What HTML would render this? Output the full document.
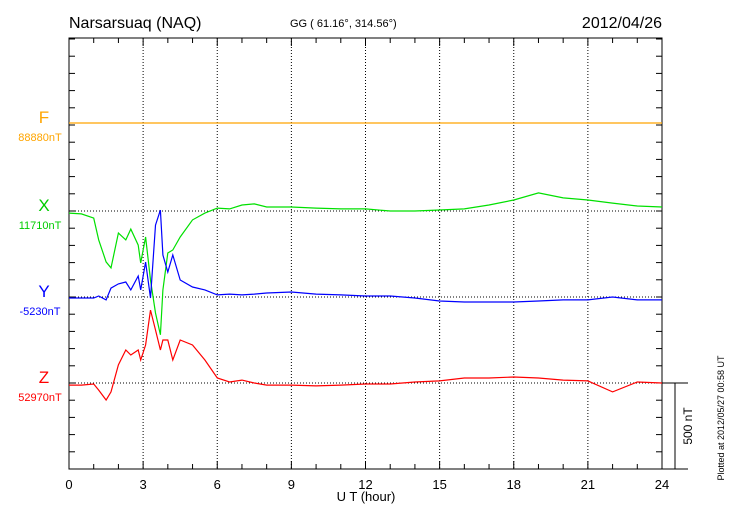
<!DOCTYPE html>
<html><head><meta charset="utf-8"><style>
body{margin:0;background:#fff;}
svg{display:block;font-family:"Liberation Sans",sans-serif;}
</style></head><body>
<svg id="chart" width="730" height="520">
<text x="69" y="28" font-size="16">Narsarsuaq (NAQ)</text>
<text x="290" y="27" font-size="11">GG ( 61.16°, 314.56°)</text>
<text x="662" y="28" font-size="16" text-anchor="end">2012/04/26</text>
<text x="366" y="501" font-size="13" text-anchor="middle">U T (hour)</text>
<text transform="translate(692,426) rotate(-90)" font-size="12" text-anchor="middle">500 nT</text>
<text transform="translate(724,418) rotate(-90)" font-size="9" text-anchor="middle">Plotted at 2012/05/27 00:58 UT</text>
<g id="grid"></g><g id="axes"></g><g id="series"></g>
</svg>
<script>
const hours=[0,0.5,1,1.2,1.5,1.7,2,2.3,2.5,2.8,2.9,3.1,3.3,3.5,3.7,3.8,4,4.2,4.5,5,5.5,6,6.5,7,7.5,8,9,10,11,12,13,14,15,16,17,18,19,20,21,22,23,24];
const xValues=[-12,-17,-41,-168,-296,-331,-128,-168,-105,-198,-302,-151,-401,-593,-720,-459,-244,-227,-151,-52,-12,17,12,35,41,23,23,17,12,12,0,0,6,12,35,64,105,76,64,46,29,23];
const yValues=[-6,-6,-6,6,-17,52,76,87,41,122,41,203,-6,418,505,244,145,244,99,58,41,12,17,12,17,23,29,17,12,6,6,-6,-23,-29,-29,-29,-23,-17,-17,0,-17,-17];
const zValues=[-12,-12,-6,-41,-99,-52,105,192,163,192,134,221,424,308,192,250,250,134,250,221,134,29,6,17,0,-12,-12,-17,-12,-6,-6,6,12,29,29,35,29,17,12,-52,6,0];
const fValues=hours.map(()=>0);
const xTicks=[0,3,6,9,12,15,18,21,24];
const comps=["F","X","Y","Z"];
const baseLabels=["88880nT","11710nT","-5230nT","52970nT"];
const NS="http://www.w3.org/2000/svg";
const L=69,R=662,T=38,B=469;
const bases=[123,211,297,383], colors=["#ffa500","#00e000","#0000ff","#ff0000"], labColors=["#ffa500","#00cc00","#0000ff","#ff0000"];
const pxPerNT=86/500;
const sx=h=>L+h*(R-L)/24;
const sy=(v,i)=>bases[i]-v*pxPerNT;
function mk(tag,attrs,parent){const e=document.createElementNS(NS,tag);for(const k in attrs)e.setAttribute(k,attrs[k]);document.getElementById(parent).appendChild(e);return e;}
xTicks.forEach(h=>{
 if(h>0&&h<24){const g=mk("line",{x1:sx(h),x2:sx(h),y1:T,y2:B,stroke:"#000","stroke-width":1,"stroke-dasharray":"1,2"},"grid");
 
 }
 const t=mk("text",{x:sx(h),y:489,"font-size":13,"text-anchor":"middle"},"axes");t.textContent=h;
 
 
});
bases.forEach((b,i)=>{
 const g=mk("line",{x1:L,x2:R,y1:b,y2:b,stroke:"#000","stroke-width":1,"stroke-dasharray":"1,2"},"grid");
 
 
 const c=mk("text",{x:44,y:b,"font-size":17,"text-anchor":"middle",fill:labColors[i]},"axes");c.textContent=comps[i];
 
 
 const v=mk("text",{x:40,y:b+18,"font-size":11,"text-anchor":"middle",fill:labColors[i]},"axes");v.textContent=baseLabels[i];
 
 
});
const frame=mk("rect",{x:L,y:T,width:R-L,height:B-T,fill:"none",stroke:"#000","stroke-width":1},"axes");


for(let y=B;y>=T;y-=86/5){
 mk("line",{x1:L,x2:L+6,y1:y,y2:y,stroke:"#000"},"axes");
 mk("line",{x1:R,x2:R-6,y1:y,y2:y,stroke:"#000"},"axes");
}
for(let h=1;h<24;h++){
 const len=h%3==0?8:5;
 mk("line",{x1:sx(h),x2:sx(h),y1:B,y2:B-len,stroke:"#000"},"axes");
 mk("line",{x1:sx(h),x2:sx(h),y1:T,y2:T+len,stroke:"#000"},"axes");
}
const sb1=mk("line",{x1:R,x2:688,y1:383,y2:383,stroke:"#000"},"axes");


const sb2=mk("line",{x1:675,x2:675,y1:383,y2:B,stroke:"#000"},"axes");


mk("line",{x1:R,x2:688,y1:B,y2:B,stroke:"#000"},"axes");
[fValues,xValues,yValues,zValues].forEach((vals,i)=>{
 const d=vals.map((v,j)=>(j?"L":"M")+sx(hours[j]).toFixed(1)+","+sy(v,i).toFixed(1)).join("");
 const p=mk("path",{d:d,fill:"none",stroke:colors[i],"stroke-width":1.2},"series");
 
 
});
</script>
</body></html>
